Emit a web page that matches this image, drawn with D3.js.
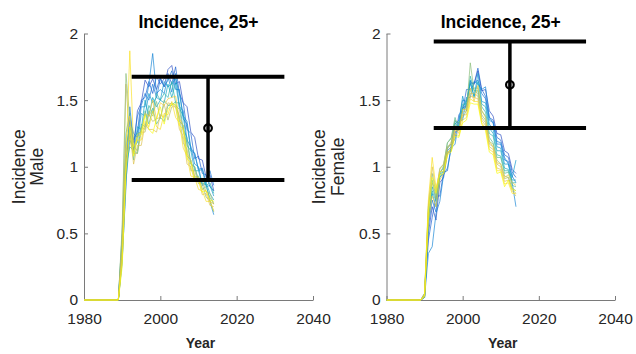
<!DOCTYPE html>
<html>
<head>
<meta charset="utf-8">
<script src="https://cdn.jsdelivr.net/npm/d3@7/dist/d3.min.js"></script>
<style>
  body { margin: 0; background: #fff; }
  svg { font-family: "Liberation Sans", Arial, Helvetica, sans-serif; }
</style>
</head>
<body>
<div id="chart"></div>
<script>
// years of each simulated run (first point = 1980)
var years = [1980, 1989, 1990, 1991, 1992, 1993, 1994, 1995, 1996, 1997, 1998, 1999, 2000,
  2001, 2002, 2003, 2004, 2005, 2006, 2007, 2008, 2009, 2010, 2011, 2012, 2013, 2014];

var xTicks = [1980, 2000, 2020, 2040];
var yTicks = [0, 0.5, 1, 1.5, 2];

// male runs
var maleRuns = [
  [0,0,0.35,1.05,1.25,1.12,1.42,1.48,1.65,1.6,1.66,1.58,1.67,1.6,1.73,1.76,1.62,1.64,1.48,1.45,1.26,1.22,1.06,1.05,0.92,0.94,0.82],
  [0,0,0.4,0.95,1.3,1.2,1.26,1.5,1.52,1.64,1.55,1.68,1.62,1.66,1.7,1.62,1.75,1.55,1.48,1.28,1.25,1.06,1.08,0.95,0.94,0.85,0.82],
  [0,0,0.3,0.85,1.45,1.18,1.38,1.46,1.55,1.5,1.62,1.52,1.66,1.6,1.65,1.72,1.58,1.58,1.36,1.32,1.12,1.1,0.98,0.99,0.88,0.97,0.86],
  [0,0,0.45,1.1,1.35,1.25,1.22,1.45,1.45,1.62,1.85,1.55,1.58,1.55,1.68,1.56,1.7,1.45,1.42,1.2,1.15,1.02,1.0,0.86,0.87,0.74,0.64],
  [0,0,0.28,0.9,1.2,1.15,1.18,1.4,1.38,1.55,1.48,1.52,1.5,1.64,1.6,1.62,1.66,1.55,1.38,1.34,1.14,1.1,0.97,0.98,0.85,0.86,0.78],
  [0,0,0.5,1.25,1.4,1.1,1.3,1.28,1.5,1.38,1.52,1.45,1.5,1.48,1.62,1.52,1.63,1.44,1.38,1.16,1.12,0.97,0.97,0.87,0.88,0.8,0.75],
  [0,0,0.35,1.0,1.15,1.12,1.1,1.32,1.3,1.46,1.4,1.55,1.5,1.55,1.52,1.64,1.48,1.48,1.28,1.22,1.02,1.0,0.9,0.91,0.86,0.88,0.8],
  [0,0,0.42,1.15,1.3,1.05,1.25,1.26,1.42,1.32,1.44,1.32,1.37,1.34,1.46,1.46,1.49,1.34,1.31,1.08,1.05,0.92,0.93,0.83,0.85,0.77,0.72],
  [0,0,0.55,1.7,1.35,1.15,1.12,1.3,1.28,1.42,1.38,1.49,1.36,1.5,1.46,1.48,1.46,1.43,1.26,1.18,1.02,1.0,0.89,0.87,0.77,0.75,0.66],
  [0,0,0.5,1.62,1.2,1.1,1.1,1.26,1.26,1.39,1.34,1.36,1.37,1.47,1.35,1.45,1.45,1.38,1.18,1.13,0.97,0.97,0.87,0.9,0.81,0.8,0.72],
  [0,0,0.32,1.0,1.25,1.02,1.16,1.16,1.32,1.28,1.28,1.26,1.39,1.37,1.48,1.47,1.45,1.28,1.23,1.02,1.0,0.89,0.9,0.79,0.8,0.71,0.7],
  [0,0,0.38,1.2,1.38,1.1,1.24,1.26,1.4,1.38,1.5,1.36,1.48,1.46,1.51,1.52,1.53,1.36,1.31,1.1,1.05,0.93,0.92,0.83,0.82,0.74,0.72],
  [0,0,0.3,1.05,1.87,1.15,1.2,1.2,1.34,1.3,1.42,1.3,1.28,1.4,1.39,1.49,1.37,1.33,1.14,1.08,0.93,0.92,0.83,0.82,0.74,0.74,0.67],
  [0,0,0.25,0.95,1.3,1.08,1.22,1.24,1.39,1.28,1.25,1.36,1.45,1.32,1.43,1.47,1.47,1.31,1.28,1.06,1.03,0.9,0.9,0.81,0.82,0.75,0.74]
];

// female runs
var femaleRuns = [
  [0,0,0.05,0.5,0.7,0.6,0.88,0.92,1.1,1.12,1.26,1.28,1.44,1.46,1.64,1.62,1.72,1.57,1.58,1.42,1.38,1.25,1.24,1.12,1.1,0.98,0.95],
  [0,0,0.03,0.45,0.62,0.78,0.78,0.96,0.97,1.16,1.21,1.39,1.42,1.58,1.58,1.62,1.74,1.58,1.53,1.37,1.35,1.22,1.2,1.09,1.07,0.96,0.92],
  [0,0,0.02,0.55,0.75,0.66,0.92,0.95,1.12,1.15,1.32,1.35,1.5,1.49,1.62,1.63,1.65,1.55,1.51,1.35,1.33,1.17,1.17,1.05,1.04,0.93,0.88],
  [0,0,0.02,0.35,0.4,0.65,0.74,0.94,0.99,1.14,1.17,1.34,1.35,1.52,1.52,1.64,1.62,1.58,1.6,1.37,1.33,1.19,1.18,1.07,1.02,0.88,0.7],
  [0,0,0.04,0.6,0.8,0.7,0.94,0.97,1.14,1.17,1.34,1.33,1.53,1.42,1.65,1.52,1.7,1.49,1.48,1.32,1.28,1.15,1.14,1.02,1.02,0.92,1.05],
  [0,0,0.03,0.58,0.85,0.76,0.96,0.99,1.15,1.17,1.3,1.31,1.45,1.49,1.63,1.53,1.64,1.47,1.45,1.29,1.25,1.12,1.12,0.99,0.98,0.9,0.9],
  [0,0,0.02,0.62,0.82,0.74,0.92,0.97,1.11,1.13,1.33,1.29,1.47,1.47,1.68,1.57,1.57,1.45,1.41,1.25,1.23,1.09,1.08,0.97,0.97,0.88,0.88],
  [0,0,0.05,0.7,0.9,0.78,0.94,1.01,1.18,1.22,1.37,1.27,1.43,1.45,1.57,1.59,1.59,1.42,1.38,1.22,1.18,1.07,1.07,0.95,0.96,0.86,0.85],
  [0,0,0.03,0.68,0.95,0.8,0.99,1.02,1.18,1.21,1.35,1.33,1.37,1.42,1.78,1.57,1.55,1.39,1.35,1.19,1.17,1.05,1.02,0.93,0.92,0.84,0.82],
  [0,0,0.02,0.65,0.88,0.76,0.96,0.99,1.13,1.19,1.31,1.29,1.41,1.42,1.55,1.55,1.53,1.37,1.33,1.17,1.15,1.02,1.0,0.91,0.92,0.83,0.8],
  [0,0,0.04,0.72,1.0,0.82,0.98,1.02,1.15,1.17,1.27,1.27,1.39,1.39,1.53,1.52,1.51,1.35,1.31,1.15,1.13,0.99,0.98,0.89,0.9,0.82,0.78],
  [0,0,0.03,0.6,0.78,0.7,0.9,0.95,1.09,1.15,1.29,1.25,1.43,1.43,1.59,1.49,1.61,1.42,1.37,1.19,1.15,1.03,1.02,0.92,0.94,0.88,0.86],
  [0,0,0.05,0.75,1.07,0.84,0.96,0.97,1.11,1.12,1.25,1.23,1.35,1.37,1.51,1.49,1.49,1.33,1.29,1.13,1.11,0.97,0.97,0.87,0.88,0.8,0.8],
  [0,0,0.03,0.66,0.92,0.8,0.94,0.95,1.09,1.11,1.23,1.22,1.33,1.35,1.48,1.47,1.47,1.32,1.27,1.11,1.09,0.95,0.96,0.85,0.9,0.83,0.82]
];

// data point with error bar: [year, mean, low, high]
var maleObs = [2012.5, 1.29, 0.9, 1.675];
var femaleObs = [2012.4, 1.615, 1.29, 1.94];
var capHalf = 20; // years

var width = 636,
  height = 354;

var svg = d3
  .select("#chart")
  .append("svg")
  .attr("width", width)
  .attr("height", height);

var parula = d3.interpolateRgbBasis(["#2a4bc2", "#1070d8", "#1485d4", "#06a7c6",
  "#38b99e", "#92bf73", "#d9ba56", "#fcce2e", "#f9fb0e"]);

var panels = [
  { runs: maleRuns, obs: maleObs, left: 84, right: 313, label: "Male", labX: [25, 43] },
  { runs: femaleRuns, obs: femaleObs, left: 386.5, right: 615, label: "Female", labX: [325, 344] }
];

var yTop = 33.5, yBottom = 300;

panels.forEach(function(p) {
  var x = d3.scaleLinear().domain([1980, 2040]).range([p.left, p.right]);
  var y = d3.scaleLinear().domain([0, 2]).range([yBottom, yTop]);
  var g = svg.append("g");

  var xa = g.append("g")
    .attr("transform", `translate(0,${yBottom})`)
    .call(d3.axisBottom(x).tickValues(xTicks).tickFormat(String).tickSizeInner(-4).tickSizeOuter(0).tickPadding(13));
  var ya = g.append("g")
    .attr("transform", `translate(${p.left},0)`)
    .call(d3.axisLeft(y).tickValues(yTicks).tickFormat(String).tickSizeInner(-4).tickSizeOuter(0).tickPadding(6));

  [xa, ya].forEach(function(a) {
    a.select(".domain").attr("stroke", "#7a7a7a");
    a.selectAll(".tick line").attr("stroke", "#7a7a7a");
    a.selectAll("text").attr("fill", "#262626").style("font-size", "15.5px");
  });

  var line = d3.line()
    .x(function(d, i) { return x(years[i]); })
    .y(function(d) { return y(d); });

  g.selectAll("path.run")
    .data(p.runs)
    .enter()
    .append("path")
    .attr("class", "run")
    .attr("d", line)
    .attr("fill", "none")
    .attr("stroke", function(d, i) { return parula(i / (p.runs.length - 1)); })
    .attr("stroke-width", 0.8)
    .attr("stroke-opacity", 0.85);

  // error bar
  var o = p.obs;
  g.append("line")
    .attr("x1", x(o[0])).attr("x2", x(o[0]))
    .attr("y1", y(o[2])).attr("y2", y(o[3]))
    .attr("stroke", "black").attr("stroke-width", 3.5);
  [o[2], o[3]].forEach(function(v) {
    g.append("line")
      .attr("x1", x(o[0] - capHalf)).attr("x2", x(o[0] + capHalf))
      .attr("y1", y(v)).attr("y2", y(v))
      .attr("stroke", "black").attr("stroke-width", 4);
  });
  g.append("circle")
    .attr("cx", x(o[0])).attr("cy", y(o[1]))
    .attr("r", 3.8)
    .attr("fill", "none")
    .attr("stroke", "black")
    .attr("stroke-width", 2.2);

  var cx = (p.left + p.right) / 2;
  g.append("text")
    .attr("x", cx).attr("y", 28)
    .attr("text-anchor", "middle")
    .style("font-size", "17.5px").style("font-weight", "bold")
    .attr("fill", "#000")
    .text("Incidence, 25+");

  g.append("text")
    .attr("x", cx + 2).attr("y", 348)
    .attr("text-anchor", "middle")
    .style("font-size", "14px").style("font-weight", "bold")
    .attr("fill", "#262626")
    .text("Year");

  ["Incidence", p.label].forEach(function(t, i) {
    g.append("text")
      .attr("transform", `translate(${p.labX[i]},${(yTop + yBottom) / 2}) rotate(-90)`)
      .attr("text-anchor", "middle")
      .style("font-size", "17.5px")
      .attr("fill", "#262626")
      .text(t);
  });
});
</script>
</body>
</html>
